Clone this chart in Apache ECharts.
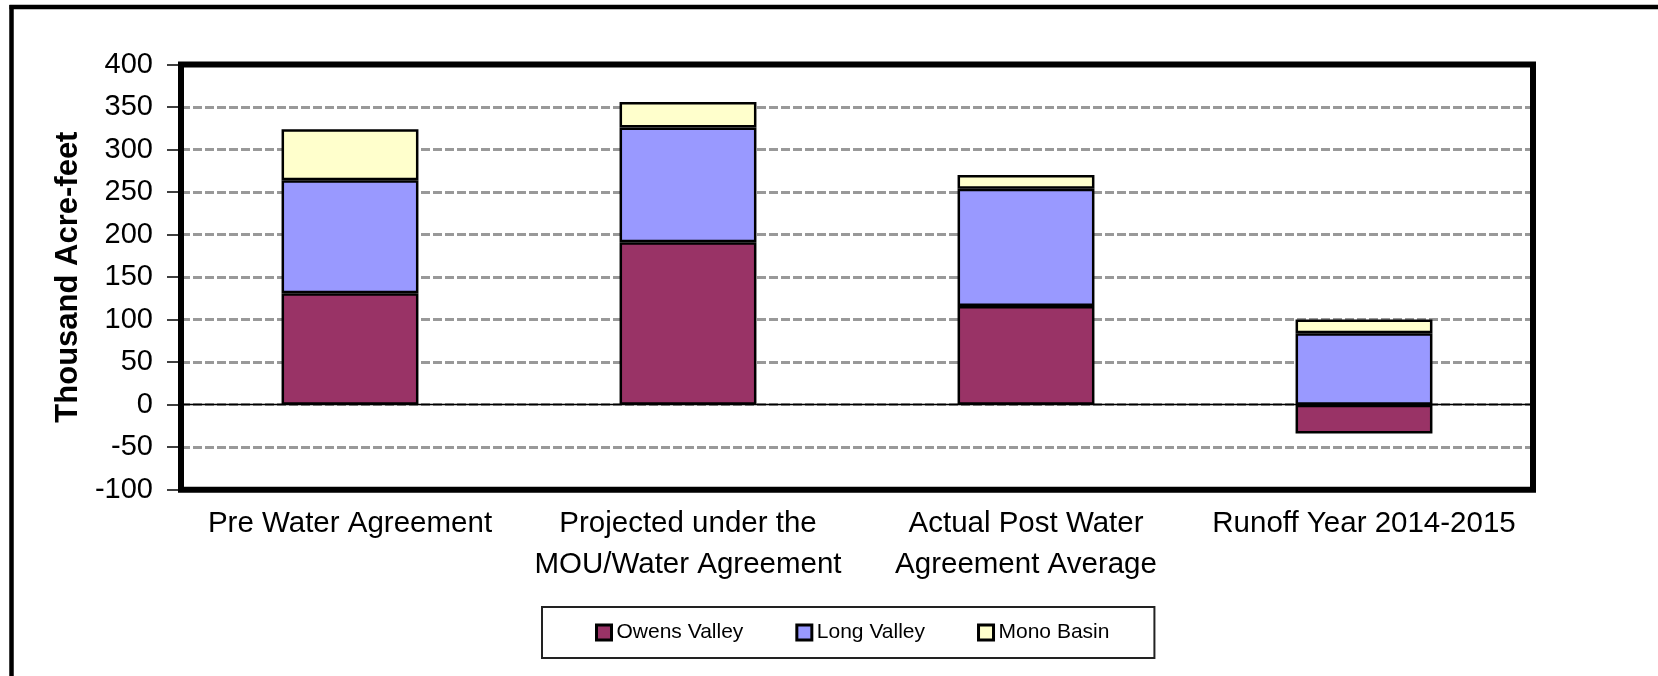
<!DOCTYPE html>
<html><head><meta charset="utf-8">
<script src="https://cdn.jsdelivr.net/npm/echarts@6/dist/echarts.min.js"></script>
<style>html,body{margin:0;padding:0;background:#fff}#c{width:1658px;height:676px}</style>
</head><body><div id="c"></div>
<script>
// ---- data ----
const categories = ['Pre Water Agreement', 'Projected under the\nMOU/Water Agreement', 'Actual Post Water\nAgreement Average', 'Runoff Year 2014-2015'];
const seriesNames = ['Owens Valley', 'Long Valley', 'Mono Basin'];
const owensValley = [131, 191, 116, -34];
const longValley = [133, 135, 138, 84];
const monoBasin = [60, 30, 16, 16];
const yMin = -100, yMax = 400, yInterval = 50;
const yTitle = 'Thousand Acre-feet';

// ---- style ----
const FONT = "'Liberation Sans', Arial, sans-serif";
const colors = ['#993366', '#9999FF', '#FFFFCC'];
const values = [owensValley, longValley, monoBasin];

const chart = echarts.init(document.getElementById('c'), null, {renderer: 'canvas'});
chart.setOption({
  backgroundColor: '#fff',
  animation: false,
  textStyle: {fontFamily: FONT},
  graphic: [{
    type: 'line', silent: true, z: 0,
    shape: {x1: 9.5, y1: 7, x2: 1658, y2: 7},
    style: {stroke: '#000', lineWidth: 4.5}
  }, {
    type: 'line', silent: true, z: 0,
    shape: {x1: 11.5, y1: 5, x2: 11.5, y2: 676},
    style: {stroke: '#000', lineWidth: 4.5}
  }],
  grid: {
    left: 181, right: 125, top: 64.5, bottom: 186.3,
    show: true, borderColor: '#000', borderWidth: 6,
    backgroundColor: 'transparent', z: 3
  },
  legend: {
    data: seriesNames,
    left: 542, top: 607,
    padding: [15, 45, 15, 53],
    itemGap: 52, itemWidth: 15, itemHeight: 15,
    icon: 'rect',
    itemStyle: {borderColor: '#000', borderWidth: 3},
    borderColor: '#222', borderWidth: 2,
    textStyle: {fontSize: 21, lineHeight: 21, color: '#000', fontFamily: FONT}
  },
  xAxis: [{
    type: 'category', data: categories, position: 'bottom',
    axisLine: {show: false, onZero: false},
    axisTick: {show: false},
    splitLine: {show: false},
    axisLabel: {interval: 0, margin: 14, fontSize: 29.5, lineHeight: 41, color: '#000', fontFamily: FONT}
  }, {
    type: 'category', data: categories, position: 'bottom',
    axisLine: {show: true, onZero: true, lineStyle: {color: '#000', width: 1.3}},
    axisTick: {show: false}, axisLabel: {show: false}, splitLine: {show: false}
  }],
  yAxis: {
    type: 'value', min: yMin, max: yMax, interval: yInterval,
    axisLine: {show: false},
    axisTick: {show: true, inside: false, length: 14, lineStyle: {color: '#000', width: 1.5}},
    axisLabel: {margin: 28, fontSize: 29, color: '#000', fontFamily: FONT},
    splitLine: {show: true, lineStyle: {color: '#999', width: 3, type: [9, 3]}},
    name: yTitle, nameLocation: 'middle', nameGap: 96,
    nameTextStyle: {fontSize: 31, fontWeight: 'bold', color: '#000', fontFamily: FONT}
  },
  series: seriesNames.map((n, i) => ({
    name: n, type: 'bar', stack: 'total', xAxisIndex: 0,
    barWidth: '40.5%',
    data: values[i],
    itemStyle: {color: colors[i], borderColor: '#000', borderWidth: 2.5}
  }))
});
</script></body></html>
